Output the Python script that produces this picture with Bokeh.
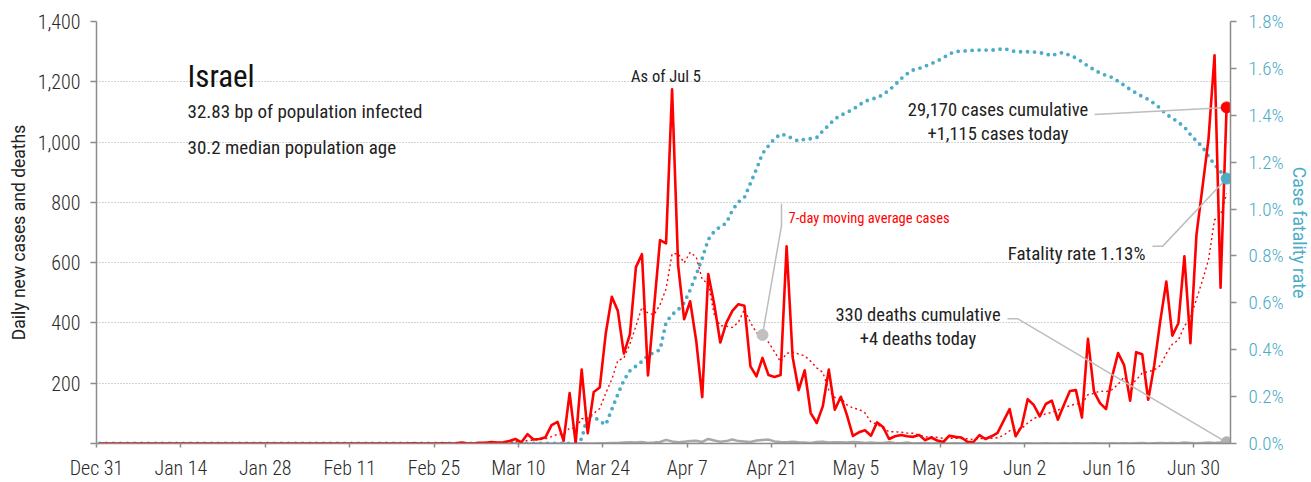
import pandas as pd
from bokeh.plotting import figure
from bokeh.models import (Range1d, LinearAxis, FixedTicker, PrintfTickFormatter,
                          ColumnDataSource)
from bokeh.embed import file_html
from bokeh.resources import INLINE
from bokeh.core.properties import value

# ---------------- data ----------------
START_DATE = "2019-12-31"

daily_cases = [
    0, 0, 0, 0, 0, 0, 0, 0, 0, 0,
    0, 0, 0, 0, 0, 0, 0, 0, 0, 0,
    0, 0, 0, 0, 0, 0, 0, 0, 0, 0,
    0, 0, 0, 0, 0, 0, 0, 0, 0, 0,
    0, 0, 0, 0, 0, 0, 0, 0, 0, 0,
    0, 0,
    1, 0, 0, 0, 0, 1, 0, 0, 3, 1,
    0, 2, 2, 5, 3, 4, 8, 15, 4, 31,
    13, 15, 21, 61, 72, 9, 167, 1, 245, 34,
    171, 186, 366, 487, 440, 298, 362, 585, 628, 226,
    450, 675, 664, 1175, 592, 412, 472, 341, 154, 562,
    461, 335, 400, 440, 462, 457, 256, 223, 284, 227,
    221, 227, 654, 287, 177, 243, 101, 68, 123, 245,
    112, 155, 95, 25, 37, 44, 26, 70, 55, 15,
    24, 28, 24, 22, 28, 11, 20, 10, 5, 26,
    22, 20, 6, 5, 28, 15, 24, 35, 75, 114,
    24, 57, 147, 128, 90, 131, 142, 79, 128, 174,
    177, 86, 347, 172, 134, 114, 221, 300, 260, 142,
    303, 296, 145, 260, 407, 537, 358, 399, 621, 333,
    692, 850, 1010, 1288, 517, 1115,
]

daily_deaths = [
    0, 0, 0, 0, 0, 0, 0, 0, 0, 0,
    0, 0, 0, 0, 0, 0, 0, 0, 0, 0,
    0, 0, 0, 0, 0, 0, 0, 0, 0, 0,
    0, 0, 0, 0, 0, 0, 0, 0, 0, 0,
    0, 0, 0, 0, 0, 0, 0, 0, 0, 0,
    0, 0, 0, 0, 0, 0, 0, 0, 0, 0,
    0, 0, 0, 0, 0, 0, 0, 0, 0, 0,
    0, 0, 0, 0, 0, 0, 0, 0, 0, 0,
    1, 0, 0, 1, 1, 2, 2, 3, 4, 3,
    5, 2, 3, 5, 12, 7, 4, 6, 8, 9,
    5, 15, 10, 6, 8, 13, 8, 7, 5, 10,
    12, 13, 7, 5, 4, 6, 4, 3, 2, 5,
    6, 3, 4, 4, 3, 5, 4, 2, 3, 2,
    2, 4, 2, 1, 3, 0, 1, 2, 0, 1,
    1, 0, 1, 0, 1, 0, 1, 0, 0, 1,
    0, 1, 0, 0, 1, 0, 0, 1, 0, 0,
    1, 0, 1, 0, 0, 1, 0, 0, 1, 0,
    1, 0, 1, 2, 0, 1, 2, 1, 2, 1,
    3, 2, 1, 2, 3, 2, 3, 4,
]

fatality_rate_pct = [
    0, 0, 0, 0, 0, 0, 0, 0, 0, 0,
    0, 0, 0, 0, 0, 0, 0, 0, 0, 0,
    0, 0, 0, 0, 0, 0, 0, 0, 0, 0,
    0, 0, 0, 0, 0, 0, 0, 0, 0, 0,
    0, 0, 0, 0, 0, 0, 0, 0, 0, 0,
    0, 0, 0, 0, 0, 0, 0, 0, 0, 0,
    0, 0, 0, 0, 0, 0, 0, 0, 0, 0,
    0, 0, 0, 0, 0, 0, 0, 0, 0, 0,
    0.02, 0.12, 0.115, 0.095, 0.08, 0.146, 0.21, 0.27, 0.31, 0.33,
    0.35, 0.375, 0.388, 0.40, 0.516, 0.55, 0.57, 0.60, 0.655, 0.72,
    0.79, 0.87, 0.905, 0.925, 0.94, 0.995, 1.03, 1.05, 1.11, 1.17,
    1.237, 1.27, 1.30, 1.32, 1.314, 1.30, 1.29, 1.298, 1.30, 1.305,
    1.333, 1.358, 1.384, 1.40, 1.412, 1.425, 1.443, 1.46, 1.468, 1.475,
    1.488, 1.507, 1.53, 1.556, 1.577, 1.593, 1.60, 1.61, 1.62, 1.632,
    1.645, 1.662, 1.672, 1.674, 1.675, 1.677, 1.678, 1.678, 1.678, 1.68,
    1.685, 1.678, 1.671, 1.671, 1.671, 1.67, 1.667, 1.662, 1.653, 1.665,
    1.667, 1.655, 1.645, 1.628, 1.61, 1.595, 1.58, 1.57, 1.562, 1.545,
    1.528, 1.51, 1.495, 1.48, 1.468, 1.45, 1.43, 1.404, 1.388, 1.37,
    1.35, 1.318, 1.29, 1.265, 1.225, 1.19, 1.16, 1.13,
]

x_tick_dates = ["2019-12-31", "2020-01-14", "2020-01-28", "2020-02-11", "2020-02-25",
                "2020-03-10", "2020-03-24", "2020-04-07", "2020-04-21", "2020-05-05",
                "2020-05-19", "2020-06-02", "2020-06-16", "2020-06-30"]
x_tick_labels = ["Dec 31", "Jan 14", "Jan 28", "Feb 11", "Feb 25", "Mar 10", "Mar 24",
                 "Apr 7", "Apr 21", "May 5", "May 19", "Jun 2", "Jun 16", "Jun 30"]
left_ticks = [0, 200, 400, 600, 800, 1000, 1200, 1400]
left_tick_labels = ["", "200", "400", "600", "800", "1,000", "1,200", "1,400"]
right_ticks = [0.0, 0.2, 0.4, 0.6, 0.8, 1.0, 1.2, 1.4, 1.6, 1.8]
right_tick_labels = ["0.0%", "0.2%", "0.4%", "0.6%", "0.8%", "1.0%", "1.2%", "1.4%", "1.6%", "1.8%"]

title_text = "Israel"
info_lines = ["32.83 bp of population infected", "30.2 median population age"]
asof_text = "As of Jul 5"
ma_label = "7-day moving average cases"
cases_note = ["29,170 cases cumulative", "+1,115 cases today"]
deaths_note = ["330 deaths cumulative", "+4 deaths today"]
cfr_note = "Fatality rate 1.13%"

# ---------------- styling ----------------
FONT = "'Roboto Condensed', 'Liberation Sans Narrow', 'DejaVu Sans Condensed', sans-serif"
TICK_FONT = "'Roboto Condensed Light', 'Roboto Condensed', 'Liberation Sans Narrow', sans-serif"
LABEL_FONT = "Roboto, 'Liberation Sans', sans-serif"
RED = "#ff0000"
TEAL = "#4bacc6"
GRAY = "#a8a8a8"
LEAD = "#bdbdbd"
AXIS = "#8c8c8c"
TXT = "#222222"

start = pd.Timestamp(START_DATE)
span_days = 188.15
end = start + pd.Timedelta(days=span_days)
dates = pd.date_range(START_DATE, periods=len(daily_cases), freq="D") + pd.Timedelta(hours=12)
ma7 = pd.Series(daily_cases, dtype=float).rolling(7).mean()

src = ColumnDataSource(dict(date=dates, cases=daily_cases, deaths=daily_deaths,
                            cfr=fatality_rate_pct, ma=ma7.values))

W, H = 1311, 482
FL, FT, FW, FH = 96, 21, 1134, 426
p = figure(width=W, height=H, x_axis_type="datetime",
           x_range=Range1d(start, end), y_range=Range1d(0, 1400),
           output_backend="svg", toolbar_location=None,
           min_border_left=FL, min_border_top=FT,
           min_border_right=W - FL - FW, min_border_bottom=H - FT - FH)
p.extra_y_ranges = {"cfr": Range1d(0, 1.8)}
p.outline_line_color = None
p.background_fill_color = "white"
p.border_fill_color = "white"


def ms(ts):
    return pd.Timestamp(ts).value / 1e6


def px_x(px):
    # canvas pixel -> datetime ms (frame spans x 96 .. 1230)
    return ms(start) + (px - FL) / FW * span_days * 86400000


def px_y(py):
    # canvas pixel -> cases units (frame spans y 21 .. 447)
    return (FT + FH - py) / FH * 1400


# grid
p.xgrid.visible = False
p.ygrid.ticker = FixedTicker(ticks=left_ticks)
p.ygrid.grid_line_color = "#a6a6a6"
p.ygrid.grid_line_dash = "1 2"
p.ygrid.grid_line_width = 1

# axes
xa = p.xaxis[0]
xa.ticker = FixedTicker(ticks=[int(ms(d)) for d in x_tick_dates])
xa.major_label_overrides = {int(ms(d)): lab for d, lab in zip(x_tick_dates, x_tick_labels)}
ya = p.yaxis[0]
ya.ticker = FixedTicker(ticks=left_ticks)
ya.major_label_overrides = dict(zip(left_ticks, left_tick_labels))
ya.axis_label = "Daily new cases and deaths"
ra = LinearAxis(y_range_name="cfr", ticker=FixedTicker(ticks=right_ticks),
                formatter=PrintfTickFormatter(format="%.1f%%"),
                axis_label="Case fatality rate")
ra.major_label_overrides = dict(zip(right_ticks, right_tick_labels))
p.add_layout(ra, "right")

for ax in (xa, ya, ra):
    ax.axis_line_color = AXIS
    ax.axis_line_width = 1.5
    ax.major_tick_line_color = AXIS
    ax.major_tick_line_width = 1.5
    ax.minor_tick_line_color = None
    ax.major_tick_in = 0
    ax.major_label_text_font = TICK_FONT
    ax.major_label_text_font_size = "20px"
    ax.major_label_text_color = "#2a2a2a"
    ax.axis_label_text_font = LABEL_FONT
    ax.axis_label_text_font_style = "normal"
    ax.axis_label_text_font_size = "17.5px"
    ax.axis_label_text_color = TXT
xa.major_tick_out = 4
xa.major_label_standoff = 8
ya.major_tick_out = 6
ya.major_label_standoff = 10
ya.axis_label_standoff = 6
ra.major_tick_out = 6
ra.major_label_standoff = 12
ra.axis_label_standoff = 2
ra.major_label_text_font_size = "19px"
ra.major_label_text_color = TEAL
ra.axis_label_text_color = TEAL

# series
p.line("date", "deaths", source=src, line_color=GRAY, line_width=2.5)
p.line("date", "cfr", source=src, y_range_name="cfr", line_color=TEAL, line_width=3.8,
       line_dash="0 7", line_cap="round")
p.line("date", "ma", source=src, line_color=RED, line_width=1.4, line_dash="2 3")
p.line("date", "cases", source=src, line_color=RED, line_width=2.6, line_join="round")

# leader lines
last_x = ms(dates[-1])
ma_idx = 110
ma_pt = (ms(dates[ma_idx]), float(ma7.iloc[ma_idx]))
cfr_last_left = fatality_rate_pct[-1] / 1.8 * 1400
p.multi_line(
    xs=[[px_x(1094), last_x],
        [px_x(1152), px_x(1162), last_x],
        [px_x(1007), px_x(1017), last_x],
        [px_x(781), px_x(781), ma_pt[0]]],
    ys=[[px_y(115), daily_cases[-1]],
        [px_y(248), px_y(248), cfr_last_left],
        [px_y(321), px_y(321), daily_deaths[-1]],
        [px_y(205), px_y(227), ma_pt[1]]],
    line_color=LEAD, line_width=1.5)

# end dots
p.scatter([last_x], [daily_cases[-1]], size=11, color=RED)
p.scatter([last_x], [fatality_rate_pct[-1]], size=11, color=TEAL, y_range_name="cfr")
p.scatter([last_x], [daily_deaths[-1]], size=11, color="#b0b0b0")
p.scatter([ma_pt[0]], [ma_pt[1]], size=11, color="#c0c0c0")

# texts
p.text(x=[px_x(187)], y=[px_y(77)], text=[title_text], text_font=value(FONT),
       text_font_size="31px", text_color="#111111",
       text_align="left", text_baseline="alphabetic")
p.text(x=[px_x(187), px_x(187)], y=[px_y(112), px_y(148.5)], text=info_lines,
       text_font=value(FONT), text_font_size="19px", text_color=TXT,
       text_align="left", text_baseline="alphabetic")
p.text(x=[px_x(665.5)], y=[px_y(77)], text=[asof_text], text_font=value(FONT),
       text_font_size="16.5px", text_color=TXT, text_align="center", text_baseline="alphabetic")
p.text(x=[px_x(788)], y=[px_y(220)], text=[ma_label], text_font=value(FONT),
       text_font_size="14.5px", text_color=RED, text_align="left", text_baseline="alphabetic")
p.text(x=[px_x(997.5), px_x(997.5)], y=[px_y(110), px_y(135)], text=cases_note,
       text_font=value(FONT), text_font_size="18.5px", text_color=TXT,
       text_align="center", text_baseline="alphabetic")
p.text(x=[px_x(917.5), px_x(917.5)], y=[px_y(317), px_y(342)], text=deaths_note,
       text_font=value(FONT), text_font_size="18.5px", text_color=TXT,
       text_align="center", text_baseline="alphabetic")
p.text(x=[px_x(1145)], y=[px_y(255)], text=[cfr_note], text_font=value(FONT),
       text_font_size="19px", text_color=TXT, text_align="right", text_baseline="alphabetic")

open("out.html", "w").write(file_html(p, INLINE))
